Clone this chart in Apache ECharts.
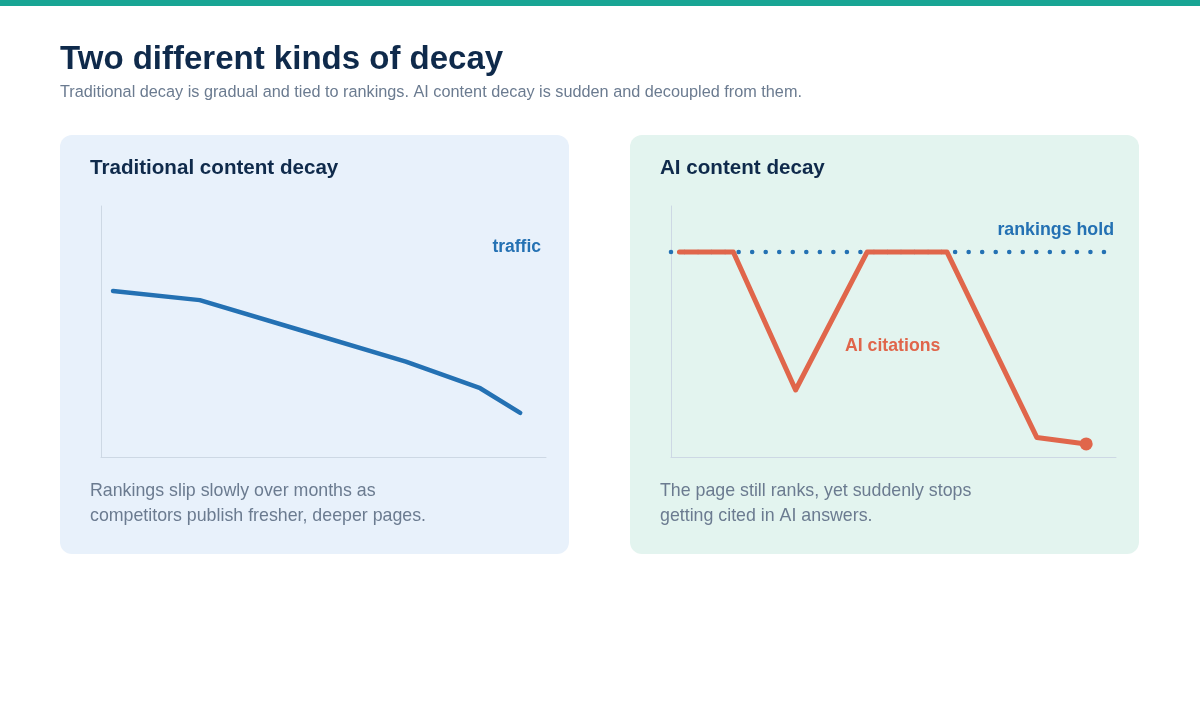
<!DOCTYPE html>
<html>
<head>
<meta charset="utf-8">
<script src="https://cdn.jsdelivr.net/npm/echarts@6/dist/echarts.min.js"></script>
<style>
html,body{margin:0;padding:0;background:#fff;}
#chart{width:1200px;height:705px;}
</style>
</head>
<body>
<div id="chart"></div>
<script>
// ---- Data ----
const titleText = "Two different kinds of decay";
const subtitleText = "Traditional decay is gradual and tied to rankings. AI content decay is sudden and decoupled from them.";
const panelTitles = ["Traditional content decay", "AI content decay"];
const panelNotes = [
  ["Rankings slip slowly over months as", "competitors publish fresher, deeper pages."],
  ["The page still ranks, yet suddenly stops", "getting cited in AI answers."]
];
const seriesLabels = ["traffic", "rankings hold", "AI citations"];

// Traditional: traffic (x = time %, y = level %)
const trafficX = [2.7, 22.2, 44.7, 68.5, 85.2, 94.2];
const trafficY = [66.1, 62.5, 50.6, 38.0, 27.4, 17.6];

// AI: rankings hold (flat) and AI citations
const rankX = [0, 97.3];
const rankY = [81.7, 81.7];
const citeX = [1.9, 14.0, 28.0, 44.1, 62.0, 82.2, 93.3];
const citeY = [81.7, 81.7, 26.7, 81.7, 81.7, 7.8, 5.2];

const zip = (xs, ys) => xs.map((x, i) => [x, ys[i]]);

const FONT = "'Liberation Sans', Arial, Helvetica, sans-serif";
const NAVY = "#0f2a4b";
const GREY = "#6b7b90";
const BLUE = "#2471b3";
const RED = "#e0664b";
const AXIS = "#cdd8e4";

const chart = echarts.init(document.getElementById('chart'), null, {renderer: 'canvas'});

function axisPair(idx) {
  return {
    x: {type: 'value', gridIndex: idx, min: 0, max: 100,
        axisLine: {show: true, onZero: false, lineStyle: {color: AXIS, width: 1}},
        axisTick: {show: false}, axisLabel: {show: false}, splitLine: {show: false}},
    y: {type: 'value', gridIndex: idx, min: 0, max: 100,
        axisLine: {show: true, onZero: false, lineStyle: {color: AXIS, width: 1}},
        axisTick: {show: false}, axisLabel: {show: false}, splitLine: {show: false}}
  };
}
const a0 = axisPair(0), a1 = axisPair(1);

function txt(x, y, text, size, color, weight, align) {
  const al = align || 'left';
  return {type: 'text', x: x, y: y, silent: true, z: 10,
    style: {text: text, fill: color, font: (weight || 'normal') + ' ' + size + 'px ' + FONT,
            align: al, textAlign: al, verticalAlign: 'middle', textVerticalAlign: 'middle'}};
}

const graphic = [
  {type: 'rect', shape: {x: 0, y: 0, width: 1200, height: 6}, style: {fill: '#18a594'}, silent: true},
  {type: 'rect', shape: {x: 60, y: 135, width: 509, height: 419, r: 12}, style: {fill: '#e8f1fb'}, silent: true, z: -10},
  {type: 'rect', shape: {x: 630, y: 135, width: 509, height: 419, r: 12}, style: {fill: '#e3f4ef'}, silent: true, z: -10},
  txt(60, 59.5, titleText, 33, NAVY, 'bold'),
  txt(60, 92.5, subtitleText, 16.25, GREY),
  txt(90, 168, panelTitles[0], 20.6, NAVY, 'bold'),
  txt(660, 168, panelTitles[1], 20.6, NAVY, 'bold'),
  txt(90, 491, panelNotes[0][0], 17.8, GREY),
  txt(90, 516.5, panelNotes[0][1], 17.8, GREY),
  txt(660, 491, panelNotes[1][0], 17.8, GREY),
  txt(660, 516.5, panelNotes[1][1], 17.8, GREY),
  txt(541, 247.5, seriesLabels[0], 17.5, BLUE, 'bold', 'right'),
  txt(1114, 230.5, seriesLabels[1], 17.8, BLUE, 'bold', 'right'),
  txt(845, 346, seriesLabels[2], 17.7, RED, 'bold')
];

const citeData = zip(citeX, citeY);

chart.setOption({
  animation: false,
  backgroundColor: '#ffffff',
  graphic: graphic,
  grid: [
    {left: 101, top: 206, width: 445, height: 251},
    {left: 671, top: 206, width: 445, height: 251}
  ],
  xAxis: [a0.x, a1.x],
  yAxis: [a0.y, a1.y],
  series: [
    {type: 'line', name: seriesLabels[0], xAxisIndex: 0, yAxisIndex: 0, data: zip(trafficX, trafficY),
     symbol: 'none', lineStyle: {color: BLUE, width: 4.5, cap: 'round', join: 'round'}, z: 3},
    {type: 'line', name: seriesLabels[1], xAxisIndex: 1, yAxisIndex: 1, data: zip(rankX, rankY),
     symbol: 'none', lineStyle: {color: BLUE, width: 4.6, type: [0, 13.53], cap: 'round'}, z: 2},
    {type: 'line', name: seriesLabels[2], xAxisIndex: 1, yAxisIndex: 1, data: citeData,
     symbol: 'none', lineStyle: {color: RED, width: 5, cap: 'round', join: 'round'}, z: 3},
    {type: 'scatter', xAxisIndex: 1, yAxisIndex: 1, data: [citeData[citeData.length - 1]],
     symbol: 'circle', symbolSize: 13, itemStyle: {color: RED, opacity: 1}, z: 4}
  ]
});
</script>
</body>
</html>
